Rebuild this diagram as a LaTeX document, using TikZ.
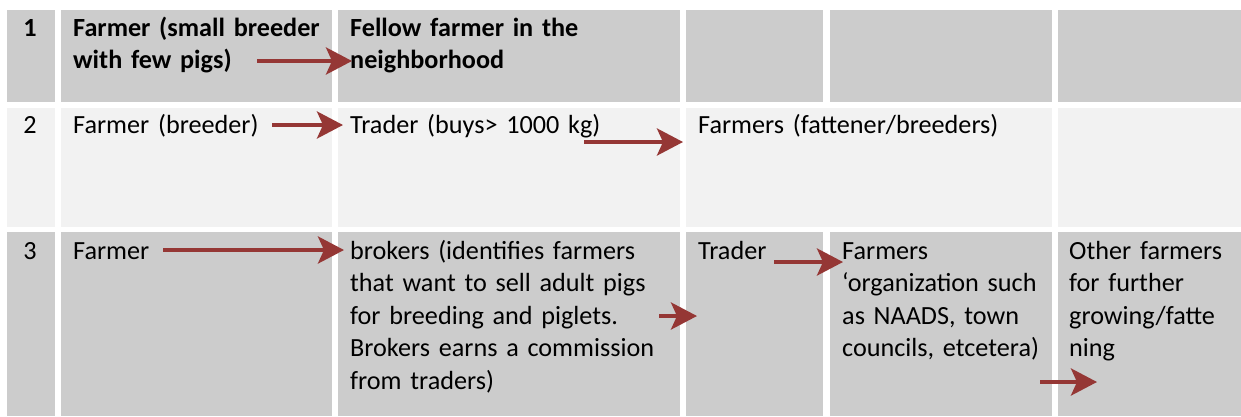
\documentclass[tikz,border=0pt]{standalone}
\usepackage{fontspec}
\setmainfont{Carlito}
\usetikzlibrary{arrows.meta}
\definecolor{cellgrey}{HTML}{CCCCCC}
\definecolor{celllight}{HTML}{F2F2F2}
\definecolor{arrowred}{HTML}{953735}
\newcommand{\cellfont}{\fontsize{26.2}{32.5}\selectfont}
\begin{document}
\begin{tikzpicture}[x=1pt,y=-1pt,
  txt/.style={anchor=base west, inner sep=0pt, align=left, text width=#1,
    font=\cellfont},
  txt/.default=320pt,
  num/.style={anchor=base, inner sep=0pt, font=\cellfont},
  flow/.style={draw=arrowred, line width=4pt,
    -{Stealth[length=26pt,width=27pt,inset=6pt]}}]
\useasboundingbox (0,0) rectangle (1241,416);
% row 1
\fill[cellgrey] (7,10) rectangle (55,102);
\fill[cellgrey] (61,10) rectangle (332,102);
\fill[cellgrey] (338,10) rectangle (680,102);
\fill[cellgrey] (686,10) rectangle (823,102);
\fill[cellgrey] (830,10) rectangle (1052,102);
\fill[cellgrey] (1058,10) rectangle (1241,102);
% row 2
\fill[celllight] (7,108) rectangle (55,227);
\fill[celllight] (61,108) rectangle (332,227);
\fill[celllight] (338,108) rectangle (680,227);
\fill[celllight] (686,108) rectangle (1052,227);
\fill[celllight] (1058,108) rectangle (1241,227);
% row 3
\fill[cellgrey] (7,232) rectangle (55,416);
\fill[cellgrey] (61,232) rectangle (332,416);
\fill[cellgrey] (338,232) rectangle (680,416);
\fill[cellgrey] (686,232) rectangle (823,416);
\fill[cellgrey] (830,232) rectangle (1052,416);
\fill[cellgrey] (1058,232) rectangle (1241,416);

% texts row 1
\node[num, font=\cellfont\bfseries] (n1) at (30,36) {1};
\node[txt, font=\cellfont\bfseries] (r1a) at (73,36) {Farmer (small breeder\\with few pigs)};
\node[txt, font=\cellfont\bfseries] (r1b) at (350,36) {Fellow farmer in the\\neighborhood};
% texts row 2
\node[num] (n2) at (30,133) {2};
\node[txt] (r2a) at (73,133) {Farmer (breeder)};
\node[txt] (r2b) at (350,133) {Trader (buys> 1000 kg)};
\node[txt=360pt] (r2c) at (698,133) {Farmers (fattener/breeders)};
% texts row 3
\node[num] (n3) at (30,259) {3};
\node[txt] (r3a) at (73,259) {Farmer};
\node[txt] (r3b) at (350,259) {brokers (identifies farmers\\that want to sell adult pigs\\for breeding and piglets.\\Brokers earns a commission\\from traders)};
\node[txt=120pt] (r3c) at (698,259) {Trader};
\node[txt=220pt] (r3d) at (842,259) {Farmers\\‘organization such\\as NAADS, town\\councils, etcetera)};
\node[txt=180pt] (r3e) at (1069,259) {Other farmers\\for further\\growing/fatte\\ning};

% arrow end points
\coordinate (a1s) at (257,61);  \coordinate (a1e) at (352,61);
\coordinate (a2s) at (272,125); \coordinate (a2e) at (343,125);
\coordinate (a3s) at (584,142); \coordinate (a3e) at (683,142);
\coordinate (a4s) at (163,250); \coordinate (a4e) at (344,250);
\coordinate (a5s) at (659,316); \coordinate (a5e) at (697,316);
\coordinate (a6s) at (774,262); \coordinate (a6e) at (843,262);
\coordinate (a7s) at (1040,382); \coordinate (a7e) at (1097,382);
\draw[flow] (a1s) -- (a1e);
\draw[flow] (a2s) -- (a2e);
\draw[flow] (a3s) -- (a3e);
\draw[flow] (a4s) -- (a4e);
\draw[flow] (a5s) -- (a5e);
\draw[flow] (a6s) -- (a6e);
\draw[flow] (a7s) -- (a7e);
\end{tikzpicture}
\end{document}
